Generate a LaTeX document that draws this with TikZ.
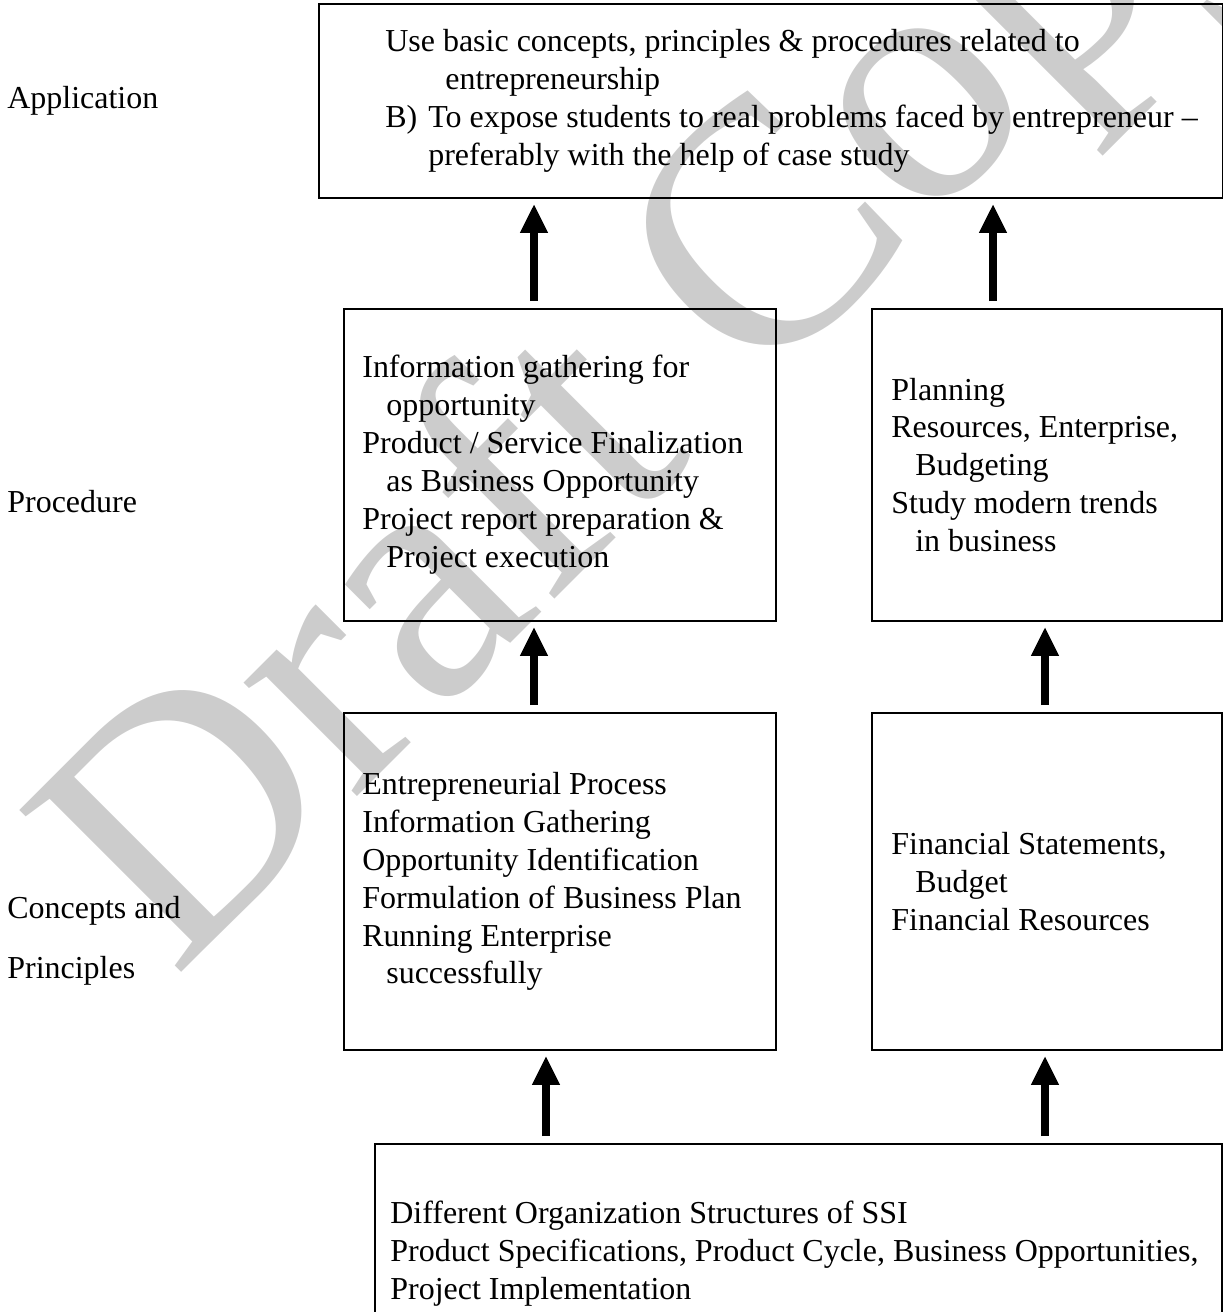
\documentclass[tikz,border=0pt]{standalone}
\usepackage{fontspec}
\setmainfont{Liberation Serif}
\usepackage{xcolor}
\usetikzlibrary{positioning,arrows.meta}
\tikzset{
  framebox/.style={draw, line width=0.04cm, anchor=north west, inner sep=0pt},
  boxtext/.style={anchor=west, align=left, inner sep=0pt, font=\fontsize{18.2}{21.6}\selectfont},
  sidelabel/.style={anchor=base west, inner sep=0pt, font=\fontsize{18.2}{21.6}\selectfont},
  uparrow/.style={line width=0.16cm, -{Triangle[width=0.52cm,length=0.58cm]}},
  watermark/.style={anchor=base west, inner sep=0pt, rotate=45, text=black!20, font=\fontsize{199}{199}\selectfont}
}

\begin{document}
\begin{tikzpicture}[x=0.02cm, y=-0.02cm]
\useasboundingbox (0,0) rectangle (1223,1312);
\node[watermark] (wm) at (174,980) {Draft Copy};

% levels
\node[sidelabel] (lapp) at (7,108) {Application};
\node[sidelabel] (lproc) at (7,512) {Procedure};
\node[sidelabel] (lcon) at (7,918) {Concepts and};
\node[sidelabel] (lpri) at (7,978) {Principles};

% boxes
\node[framebox, minimum width=18.08cm, minimum height=3.88cm] (topbox) at (318,3) {};
\node[framebox, minimum width=8.64cm, minimum height=6.24cm] (plbox) at (343,308) {};
\node[framebox, minimum width=7cm, minimum height=6.24cm] (prbox) at (871,308) {};
\node[framebox, minimum width=8.64cm, minimum height=6.74cm] (clbox) at (343,712) {};
\node[framebox, minimum width=7cm, minimum height=6.74cm] (crbox) at (871,712) {};
\node[framebox, minimum width=16.94cm, minimum height=4.4cm] (botbox) at (374,1143) {};

\node[boxtext] (toptxt) at ([xshift=1.34cm]topbox.west) {Use basic concepts, principles \& procedures related to\\
\hspace{1.2cm}entrepreneurship\\
\makebox[0.86cm][l]{B)}To expose students to real problems faced by entrepreneur –\\
\hspace{0.86cm}preferably with the help of case study};
\node[boxtext] (pltxt) at ([xshift=0.38cm]plbox.west) {Information gathering for\\
\hspace{0.48cm}opportunity\\
Product / Service Finalization\\
\hspace{0.48cm}as Business Opportunity\\
Project report preparation \&\\
\hspace{0.48cm}Project execution};
\node[boxtext] (prtxt) at ([xshift=0.4cm]prbox.west) {Planning\\
Resources, Enterprise,\\
\hspace{0.48cm}Budgeting\\
Study modern trends\\
\hspace{0.48cm}in business};
\node[boxtext] (cltxt) at ([xshift=0.38cm]clbox.west) {Entrepreneurial Process\\
Information Gathering\\
Opportunity Identification\\
Formulation of Business Plan\\
Running Enterprise\\
\hspace{0.48cm}successfully};
\node[boxtext] (crtxt) at ([xshift=0.4cm]crbox.west) {Financial Statements,\\
\hspace{0.48cm}Budget\\
Financial Resources};
\node[boxtext] (bottxt) at ([xshift=0.32cm]botbox.west) {Different Organization Structures of SSI\\
Product Specifications, Product Cycle, Business Opportunities,\\
Project Implementation};

% arrows
\coordinate (c1) at (534,0);
\coordinate (c2) at (993,0);
\coordinate (c3) at (1045,0);
\coordinate (c4) at (546,0);
\draw[uparrow] ([yshift=0.14cm]c1 |- plbox.north) -- ([yshift=-0.1cm]c1 |- topbox.south);
\draw[uparrow] ([yshift=0.14cm]c2 |- prbox.north) -- ([yshift=-0.1cm]c2 |- topbox.south);
\draw[uparrow] ([yshift=0.14cm]c1 |- clbox.north) -- ([yshift=-0.1cm]c1 |- plbox.south);
\draw[uparrow] ([yshift=0.14cm]c3 |- crbox.north) -- ([yshift=-0.1cm]c3 |- prbox.south);
\draw[uparrow] ([yshift=0.14cm]c4 |- botbox.north) -- ([yshift=-0.1cm]c4 |- clbox.south);
\draw[uparrow] ([yshift=0.14cm]c3 |- botbox.north) -- ([yshift=-0.1cm]c3 |- crbox.south);
\end{tikzpicture}
\end{document}
